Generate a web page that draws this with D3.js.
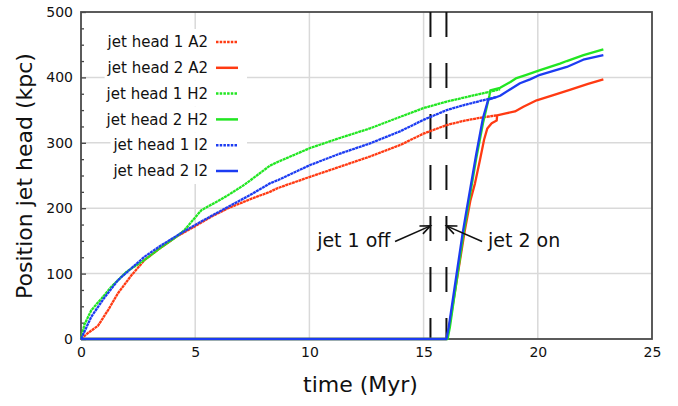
<!DOCTYPE html>
<html>
<head>
<meta charset="utf-8">
<script src="https://cdn.jsdelivr.net/npm/d3@7"></script>
<style>
  body { margin: 0; background: #fff; }
  svg text { font-family: "DejaVu Sans", sans-serif; fill: #111; }
</style>
</head>
<body>
<div id="chart"></div>
<script>
// ---- data (time in Myr, position in kpc) ----
const a2Head1 = [[0,0],[0.3,9],[0.74,20],[1.2,45],[1.62,70],[2.2,97],[2.79,121],[3.5,140],[4.2,157],[4.98,172],[5.7,187],[6.44,200],[7.5,215],[8.27,225],[8.63,231],[10.03,248],[11.3,263],[12.65,279],[14.0,297],[14.99,314],[16.0,327],[16.8,334],[17.6,339],[18.2,342]];
const a2Head2 = [[0,0],[16.0,0],[16.1,14],[16.5,100],[16.8,165],[17.05,212],[17.25,238],[17.47,274],[17.65,305],[17.79,322],[17.98,330],[18.2,334],[18.22,342],[18.6,345],[19.0,348],[19.37,355],[19.95,365],[20.68,373],[21.4,381],[22.2,390],[22.87,397]];
const h2Head1 = [[0,0],[0.15,22],[0.45,44],[0.9,62],[1.33,80],[2.0,103],[2.79,121],[3.5,140],[4.2,157],[4.54,167],[4.98,185],[5.27,197],[6.0,211],[6.44,220],[7.16,236],[8.27,265],[8.63,271],[10.03,292],[11.3,307],[12.65,322],[14.0,340],[14.99,353],[16.01,363],[17.0,371],[17.9,378],[18.35,382]];
const h2Head2 = [[0,0],[16.05,0],[16.15,18],[16.75,162],[17.3,275],[17.6,330],[17.88,372],[17.92,380],[18.35,384],[18.8,393],[19.07,399],[19.5,404],[20.1,411],[20.97,421],[21.27,425],[22.0,434],[22.87,443]];
const i2Head1 = [[0,0],[0.2,15],[0.45,34],[1.0,62],[1.62,90],[2.2,108],[2.79,126],[3.5,143],[4.2,158],[4.98,174],[5.7,188],[6.44,202],[7.5,222],[8.27,238],[8.63,243],[10.03,266],[11.3,283],[12.65,299],[14.0,318],[14.99,335],[16.01,350],[16.8,358],[17.6,365],[18.2,370]];
const i2Head2 = [[0,0],[16.0,0],[16.1,18],[16.71,162],[16.88,197],[17.3,282],[17.6,338],[17.83,366],[18.2,370],[18.35,372],[18.8,382],[19.22,391],[19.66,397],[20.1,404],[21.27,416],[21.99,427],[22.87,434]];

const seriesNames = ["jet head 1 A2", "jet head 2 A2", "jet head 1 H2", "jet head 2 H2", "jet head 1 I2", "jet head 2 I2"];
const seriesData = [a2Head1, a2Head2, h2Head1, h2Head2, i2Head1, i2Head2];

const xTicks = [0, 5, 10, 15, 20, 25];
const yTicks = [0, 100, 200, 300, 400, 500];
const markerTimes = [15.3, 16.0];   // jet 1 off, jet 2 on

// ---- style ----
const colors = ["#ff3a12", "#ff3a12", "#22e622", "#22e622", "#1c3cf2", "#1c3cf2"];
const dotted = [true, false, true, false, true, false];

const width = 678, height = 406;
const margin = { top: 12, right: 26, bottom: 67, left: 81 };

const svg = d3.select("#chart").append("svg")
    .attr("width", width)
    .attr("height", height);

const x = d3.scaleLinear().domain([0, 25]).range([margin.left, width - margin.right]);
const y = d3.scaleLinear().domain([0, 500]).range([height - margin.bottom, margin.top]);

// grid
svg.append("g").selectAll("line")
    .data(xTicks.slice(1, -1))
    .join("line")
    .attr("x1", d => x(d)).attr("x2", d => x(d))
    .attr("y1", y(0)).attr("y2", y(500))
    .attr("stroke", "#d9d9d9").attr("stroke-width", 1.5);
svg.append("g").selectAll("line")
    .data(yTicks.slice(1, -1))
    .join("line")
    .attr("x1", x(0)).attr("x2", x(25))
    .attr("y1", d => y(d)).attr("y2", d => y(d))
    .attr("stroke", "#d9d9d9").attr("stroke-width", 1.5);

// legend sits on a white patch above the grid
const legendG = svg.append("g");

// axes
const yAxis = d3.axisLeft(y).tickValues(yTicks).tickSizeInner(-5).tickSizeOuter(0).tickPadding(8);
const yMinor = d3.axisLeft(y).tickValues(d3.range(25, 500, 25).filter(d => d % 100 !== 0))
    .tickSizeInner(-3).tickSizeOuter(0).tickFormat("");
const xAxis = d3.axisBottom(x).tickValues(xTicks).tickSize(0).tickPadding(8);

const gy = svg.append("g").attr("transform", `translate(${x(0)},0)`).call(yAxis);
const gyMinor = svg.append("g").attr("transform", `translate(${x(0)},0)`).call(yMinor);
const gx = svg.append("g").attr("transform", `translate(0,${y(0)})`).call(xAxis);
[gy, gyMinor, gx].forEach(g => {
    g.select(".domain").remove();
    g.selectAll("line").attr("stroke", "#444").attr("stroke-width", 1.3);
    g.selectAll("text").style("font-size", "14px").attr("fill", "#111");
});

// frame
svg.append("rect")
    .attr("x", x(0)).attr("y", y(500))
    .attr("width", x(25) - x(0)).attr("height", y(0) - y(500))
    .attr("fill", "none").attr("stroke", "#4a4a4a").attr("stroke-width", 1.8);

// dashed markers
svg.append("g").selectAll("line")
    .data(markerTimes)
    .join("line")
    .attr("x1", d => x(d)).attr("x2", d => x(d))
    .attr("y1", y(500)).attr("y2", y(0))
    .attr("stroke", "#111").attr("stroke-width", 2)
    .attr("stroke-dasharray", "25,26");

// curves
const line = d3.line().x(d => x(d[0])).y(d => y(d[1]));
svg.append("g").selectAll("path")
    .data(seriesData)
    .join("path")
    .attr("d", line)
    .attr("fill", "none")
    .attr("stroke", (d, i) => colors[i])
    .attr("stroke-width", 2.3)
    .attr("stroke-linejoin", "round")
    .attr("stroke-dasharray", (d, i) => dotted[i] ? "3,0.5" : null);

// legend
const legendRight = 208, legendY0 = 42, legendStep = 25.8;
seriesNames.forEach((name, i) => {
    const ly = legendY0 + i * legendStep;
    const bg = legendG.append("rect");
    const t = legendG.append("text")
        .attr("x", legendRight).attr("y", ly)
        .attr("dy", "0.35em")
        .attr("text-anchor", "end")
        .style("font-size", "15px")
        .text(name);
    const w = t.node().getComputedTextLength();
    bg.attr("x", legendRight - w - 3).attr("y", ly - 13)
        .attr("width", w + 42).attr("height", 26)
        .attr("fill", "#fff");
    legendG.append("line")
        .attr("x1", legendRight + 8).attr("x2", legendRight + 30)
        .attr("y1", ly).attr("y2", ly)
        .attr("stroke", colors[i]).attr("stroke-width", 2.5)
        .attr("stroke-dasharray", dotted[i] ? "2.5,1.2" : null);
});

// annotations
const annotations = [
    { label: "jet 1 off", tip: [15.3, 173], tail: [13.75, 149], text: [13.55, 151], anchor: "end" },
    { label: "jet 2 on", tip: [16.0, 173], tail: [17.56, 149], text: [17.82, 151], anchor: "start" }
];
annotations.forEach(a => {
    const x1 = x(a.tail[0]), y1 = y(a.tail[1]), x2 = x(a.tip[0]), y2 = y(a.tip[1]);
    const ang = Math.atan2(y2 - y1, x2 - x1);
    const hl = 11, ha = 0.4;
    svg.append("line")
        .attr("x1", x1).attr("y1", y1).attr("x2", x2).attr("y2", y2)
        .attr("stroke", "#111").attr("stroke-width", 1.6);
    svg.append("path")
        .attr("d", `M${x2 - hl * Math.cos(ang - ha)},${y2 - hl * Math.sin(ang - ha)}L${x2},${y2}L${x2 - hl * Math.cos(ang + ha)},${y2 - hl * Math.sin(ang + ha)}`)
        .attr("fill", "none").attr("stroke", "#111").attr("stroke-width", 1.6);
    svg.append("text")
        .attr("x", x(a.text[0])).attr("y", y(a.text[1]))
        .attr("dy", "0.35em")
        .attr("text-anchor", a.anchor)
        .style("font-size", "19px")
        .text(a.label);
});

// axis titles
svg.append("text")
    .attr("x", (x(0) + x(25)) / 2 - 6).attr("y", 392)
    .attr("text-anchor", "middle")
    .style("font-size", "22px")
    .text("time (Myr)");
svg.append("text")
    .attr("transform", `translate(32,${176}) rotate(-90)`)
    .attr("text-anchor", "middle")
    .style("font-size", "22px")
    .text("Position jet head (kpc)");
</script>
</body>
</html>
